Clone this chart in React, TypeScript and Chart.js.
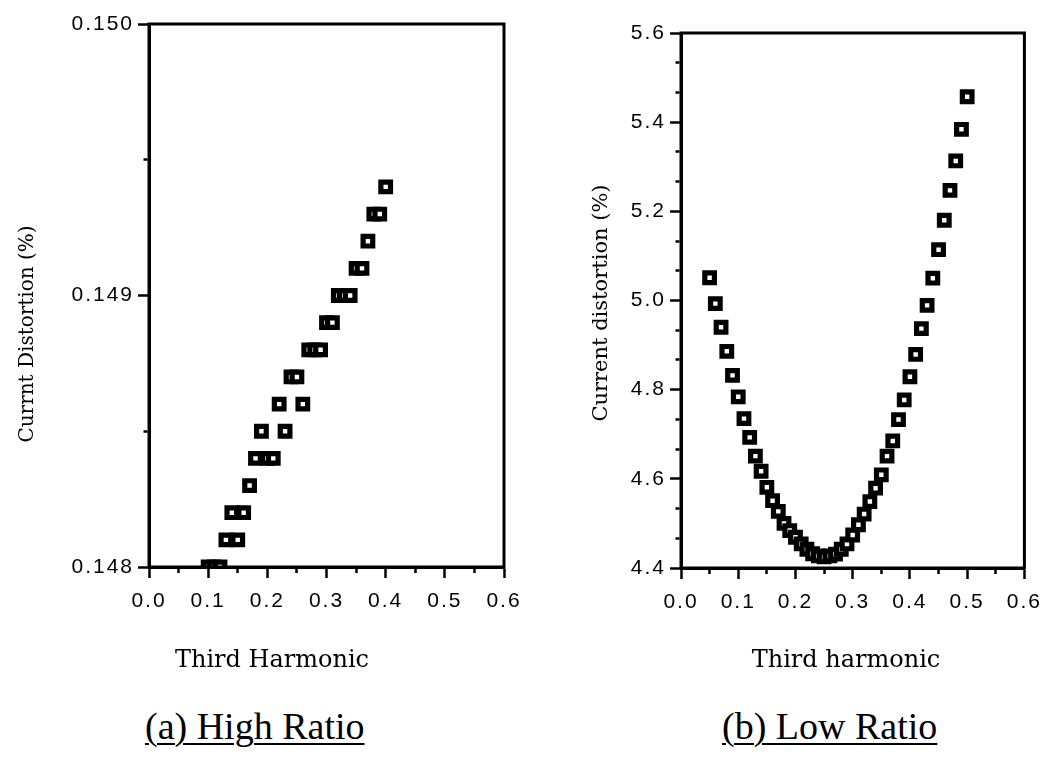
import React, { useEffect, useRef } from "react";
import { Chart, registerables } from "chart.js";

Chart.register(...registerables);

// ---------- data ----------
const highRatioHarmonic = [
  0.10, 0.11, 0.12, 0.13, 0.14, 0.15, 0.16, 0.17, 0.18, 0.19, 0.20, 0.21, 0.22, 0.23, 0.24, 0.25,
  0.26, 0.27, 0.28, 0.29, 0.30, 0.31, 0.32, 0.33, 0.34, 0.35, 0.36, 0.37, 0.38, 0.39, 0.40,
];
const highRatioDistortion = [
  0.1480, 0.1480, 0.1480, 0.1481, 0.1482, 0.1481, 0.1482, 0.1483, 0.1484, 0.1485, 0.1484, 0.1484,
  0.1486, 0.1485, 0.1487, 0.1487, 0.1486, 0.1488, 0.1488, 0.1488, 0.1489, 0.1489, 0.1490, 0.1490,
  0.1490, 0.1491, 0.1491, 0.1492, 0.1493, 0.1493, 0.1494,
];

const lowRatioHarmonic = [
  0.05, 0.06, 0.07, 0.08, 0.09, 0.10, 0.11, 0.12, 0.13, 0.14, 0.15, 0.16, 0.17, 0.18, 0.19, 0.20,
  0.21, 0.22, 0.23, 0.24, 0.25, 0.26, 0.27, 0.28, 0.29, 0.30, 0.31, 0.32, 0.33, 0.34, 0.35, 0.36,
  0.37, 0.38, 0.39, 0.40, 0.41, 0.42, 0.43, 0.44, 0.45, 0.46, 0.47, 0.48, 0.49, 0.50,
];
const lowRatioDistortion = [
  5.051, 4.993, 4.940, 4.886, 4.832, 4.784, 4.735, 4.693, 4.651, 4.617, 4.581, 4.551, 4.527, 4.500,
  4.484, 4.469, 4.454, 4.442, 4.432, 4.427, 4.425, 4.427, 4.431, 4.442, 4.454, 4.474, 4.497, 4.521,
  4.549, 4.579, 4.609, 4.651, 4.685, 4.733, 4.777, 4.829, 4.879, 4.937, 4.989, 5.050, 5.114, 5.180,
  5.247, 5.313, 5.384, 5.457,
];

// tick lists
const xMajorTicks = [0.0, 0.1, 0.2, 0.3, 0.4, 0.5, 0.6];
const xMinorTicks = [0.05, 0.15, 0.25, 0.35, 0.45, 0.55];
const highYMajorTicks = [0.148, 0.149, 0.150];
const highYMinorTicks = [0.1485, 0.1495];
const lowYMajorTicks = [4.4, 4.6, 4.8, 5.0, 5.2, 5.4, 5.6];
const lowYMinorTicks = [
  4.4667, 4.5333, 4.6667, 4.7333, 4.8667, 4.9333, 5.0667, 5.1333, 5.2667, 5.3333, 5.4667, 5.5333,
];

// ---------- helpers ----------
const isIn = (v: number, arr: number[]) => arr.some((a) => Math.abs(a - v) < 1e-7);
const sorted = (a: number[], b: number[]) => [...a, ...b].sort((p, q) => p - q);

const TICK_LEN = 11;
const TICK_FONT = { family: "'Liberation Sans', Arial, sans-serif", size: 21 };

const spacingPlugin = {
  id: "tickSpacing",
  beforeDraw(chart: any) {
    (chart.ctx as any).letterSpacing = "2px";
  },
};

const framePlugin = {
  id: "frame",
  afterDraw(chart: any) {
    const { ctx, chartArea: a } = chart;
    ctx.save();
    ctx.strokeStyle = "#000";
    ctx.lineWidth = 3;
    ctx.strokeRect(a.left, a.top, a.right - a.left, a.bottom - a.top);
    ctx.restore();
  },
};

type TitleItem = { text: string; x: number; y: number; rotate?: number; font: string };

const makeTitlesPlugin = (items: TitleItem[]) => ({
  id: "axisTitles",
  afterDraw(chart: any) {
    const ctx = chart.ctx;
    items.forEach((it) => {
      ctx.save();
      (ctx as any).letterSpacing = "0px";
      ctx.font = it.font;
      ctx.fillStyle = "#000";
      ctx.textAlign = "center";
      ctx.textBaseline = "middle";
      ctx.translate(it.x, it.y);
      if (it.rotate) ctx.rotate(it.rotate);
      ctx.fillText(it.text, 0, 0);
      ctx.restore();
    });
  },
});

type PanelSpec = {
  xs: number[];
  ys: number[];
  yMin: number;
  yMax: number;
  yMajor: number[];
  yMinor: number[];
  yDecimals: number;
  padTop: number;
  padRight: number;
  yAxisWidth: number;
  xAxisHeight: number;
  titles: TitleItem[];
};

function dashFor(major: number[], vertical: boolean) {
  return (ctx: any) => {
    if (!ctx.tick) return [];
    if (isIn(ctx.tick.value, major)) return [];
    // left-axis ticks are drawn from their outer end toward the axis
    return vertical ? [4, 100] : [0, TICK_LEN - 1.5 - 4, 4, 100];
  };
}

function buildConfig(p: PanelSpec): any {
  return {
    type: "scatter",
    data: {
      datasets: [
        {
          data: p.xs.map((x, i) => ({ x, y: p.ys[i] })),
          pointStyle: "rect",
          pointRadius: 6.8,
          pointBorderWidth: 5.2,
          pointBackgroundColor: "#fff",
          pointBorderColor: "#000",
          showLine: false,
          clip: 0,
        },
      ],
    },
    options: {
      responsive: false,
      animation: false,
      events: [],
      layout: { padding: { top: p.padTop, right: p.padRight, left: 0, bottom: 0 } },
      plugins: {
        legend: { display: false },
        tooltip: { enabled: false },
        title: { display: false },
      },
      scales: {
        x: {
          type: "linear",
          min: 0,
          max: 0.6,
          afterBuildTicks: (s: any) => {
            s.ticks = sorted(xMajorTicks, xMinorTicks).map((v) => ({ value: v }));
          },
          afterFit: (s: any) => {
            s.height = p.xAxisHeight;
          },
          ticks: {
            autoSkip: false,
            maxRotation: 0,
            minRotation: 0,
            color: "#000",
            padding: 11,
            font: TICK_FONT,
            callback: (v: any) => (isIn(Number(v), xMajorTicks) ? Number(v).toFixed(1) : ""),
          },
          grid: {
            drawOnChartArea: false,
            drawTicks: true,
            tickLength: TICK_LEN,
            tickWidth: 2.5,
            tickColor: "#000",
            tickBorderDash: dashFor(xMajorTicks, true),
          },
          border: { display: true, color: "#000", width: 3 },
        },
        y: {
          type: "linear",
          min: p.yMin,
          max: p.yMax,
          afterBuildTicks: (s: any) => {
            s.ticks = sorted(p.yMajor, p.yMinor).map((v) => ({ value: v }));
          },
          afterFit: (s: any) => {
            s.width = p.yAxisWidth;
          },
          ticks: {
            autoSkip: false,
            color: "#000",
            padding: 4,
            font: TICK_FONT,
            callback: (v: any) => (isIn(Number(v), p.yMajor) ? Number(v).toFixed(p.yDecimals) : ""),
          },
          grid: {
            drawOnChartArea: false,
            drawTicks: true,
            tickLength: TICK_LEN,
            tickWidth: 2.5,
            tickColor: "#000",
            tickBorderDash: dashFor(p.yMajor, false),
          },
          border: { display: true, color: "#000", width: 3 },
        },
      },
    },
    plugins: [spacingPlugin, framePlugin, makeTitlesPlugin(p.titles)],
  };
}

const SERIF = "'DejaVu Serif', serif";

const highSpec: PanelSpec = {
  xs: highRatioHarmonic,
  ys: highRatioDistortion,
  yMin: 0.148,
  yMax: 0.15,
  yMajor: highYMajorTicks,
  yMinor: highYMinorTicks,
  yDecimals: 3,
  padTop: 24,
  padRight: 36,
  yAxisWidth: 149,
  xAxisHeight: 123,
  titles: [
    { text: "Currnt Distortion (%)", x: 28, y: 334, rotate: -Math.PI / 2, font: `20px ${SERIF}` },
    { text: "Third Harmonic", x: 272, y: 661, font: `24px ${SERIF}` },
  ],
};

const lowSpec: PanelSpec = {
  xs: lowRatioHarmonic,
  ys: lowRatioDistortion,
  yMin: 4.4,
  yMax: 5.6,
  yMajor: lowYMajorTicks,
  yMinor: lowYMinorTicks,
  yDecimals: 1,
  padTop: 33,
  padRight: 22,
  yAxisWidth: 141,
  xAxisHeight: 122,
  titles: [
    { text: "Current distortion (%)", x: 62, y: 303, rotate: -Math.PI / 2, font: `21px ${SERIF}` },
    { text: "Third harmonic", x: 306, y: 661, font: `24px ${SERIF}` },
  ],
};

function Panel({ spec, left, width, height }: { spec: PanelSpec; left: number; width: number; height: number }) {
  const ref = useRef<HTMLCanvasElement>(null);
  useEffect(() => {
    const chart = new Chart(ref.current as HTMLCanvasElement, buildConfig(spec));
    return () => chart.destroy();
  }, [spec]);
  return (
    <canvas
      ref={ref}
      width={width}
      height={height}
      style={{ position: "absolute", left, top: 0, width, height }}
    />
  );
}

const captionStyle: React.CSSProperties = {
  position: "absolute",
  top: 706,
  fontFamily: "'Liberation Serif', 'Times New Roman', serif",
  fontSize: 38,
  lineHeight: "40px",
  color: "#000",
  textDecoration: "underline",
  textDecorationThickness: "2px",
  textUnderlineOffset: "4px",
  whiteSpace: "nowrap",
};

export default function App() {
  return (
    <div
      style={{
        position: "absolute",
        left: 0,
        top: 0,
        width: 1050,
        height: 763,
        background: "#fff",
        overflow: "hidden",
      }}
    >
      <Panel spec={highSpec} left={0} width={540} height={690} />
      <Panel spec={lowSpec} left={540} width={510} height={690} />
      <div style={{ ...captionStyle, left: 145 }}>(a) High Ratio</div>
      <div style={{ ...captionStyle, left: 722 }}>(b) Low Ratio</div>
    </div>
  );
}
